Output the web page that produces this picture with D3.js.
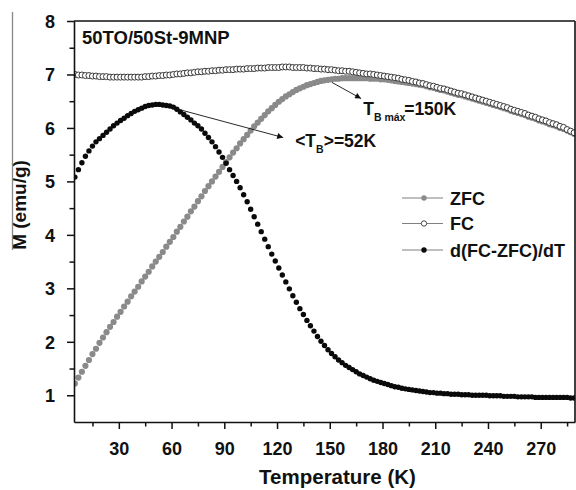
<!DOCTYPE html>
<html><head><meta charset="utf-8">
<script src="https://cdn.jsdelivr.net/npm/d3@7"></script>
<style>
body{margin:0;background:#fff}
svg{display:block}
text{font-family:"Liberation Sans",Arial,Helvetica,sans-serif;font-weight:bold;fill:#111}
</style>
</head><body>
<svg id="chart" width="576" height="490"></svg>
<script>
// ---------- data ----------
const temperature = [
  5,7,9,11,13,15,17,19,21,23,
  25,27,29,31,33,35,37,39,41,43,
  45,47,49,51,53,55,57,59,61,63,
  65,67,69,71,73,75,77,79,81,83,
  85,87,89,91,93,95,97,99,101,103,
  105,107,109,111,113,115,117,119,121,123,
  125,127,129,131,133,135,137,139,141,143,
  145,147,149,151,153,155,157,159,161,163,
  165,167,169,171,173,175,177,179,181,183,
  185,187,189,191,193,195,197,199,201,203,
  205,207,209,211,213,215,217,219,221,223,
  225,227,229,231,233,235,237,239,241,243,
  245,247,249,251,253,255,257,259,261,263,
  265,267,269,271,273,275,277,279,281,283,
  285,287,289
];
const zfc = [
  1.22,1.33,1.44,1.55,1.66,1.77,1.87,1.98,2.08,2.18,
  2.28,2.37,2.47,2.56,2.66,2.75,2.85,2.94,3.03,3.13,
  3.22,3.31,3.41,3.50,3.59,3.68,3.78,3.87,3.96,4.06,
  4.15,4.25,4.34,4.44,4.53,4.63,4.72,4.82,4.91,5.00,
  5.09,5.18,5.27,5.36,5.45,5.54,5.62,5.71,5.79,5.87,
  5.95,6.03,6.10,6.17,6.24,6.31,6.37,6.43,6.49,6.54,
  6.59,6.63,6.67,6.71,6.74,6.77,6.80,6.82,6.84,6.86,
  6.88,6.89,6.90,6.91,6.92,6.92,6.93,6.93,6.93,6.93,
  6.93,6.93,6.93,6.93,6.92,6.92,6.92,6.91,6.91,6.90,
  6.89,6.88,6.87,6.86,6.85,6.84,6.83,6.82,6.81,6.80,
  6.78,6.76,6.75,6.73,6.71,6.70,6.68,6.66,6.64,6.62,
  6.61,6.59,6.57,6.55,6.53,6.51,6.49,6.47,6.45,6.43,
  6.41,6.39,6.37,6.35,6.32,6.30,6.28,6.26,6.24,6.21,
  6.19,6.17,6.14,6.12,6.10,6.07,6.05,6.03,6.00,5.98,
  5.95,5.92,5.89
];
const fc = [
  7.00,6.99,6.99,6.98,6.98,6.97,6.97,6.96,6.96,6.96,
  6.95,6.95,6.95,6.95,6.95,6.95,6.95,6.95,6.95,6.95,
  6.96,6.96,6.97,6.97,6.98,6.98,6.99,6.99,7.00,7.01,
  7.01,7.02,7.03,7.03,7.04,7.05,7.05,7.06,7.06,7.07,
  7.07,7.08,7.08,7.09,7.09,7.09,7.10,7.10,7.10,7.11,
  7.11,7.11,7.12,7.12,7.12,7.13,7.13,7.13,7.13,7.14,
  7.14,7.14,7.13,7.13,7.13,7.13,7.12,7.12,7.11,7.11,
  7.10,7.10,7.09,7.09,7.08,7.07,7.07,7.06,7.06,7.05,
  7.04,7.03,7.02,7.01,7.01,7.00,6.99,6.98,6.97,6.96,
  6.95,6.94,6.93,6.91,6.90,6.89,6.87,6.86,6.84,6.83,
  6.81,6.79,6.78,6.76,6.74,6.73,6.71,6.69,6.67,6.65,
  6.64,6.62,6.60,6.58,6.56,6.54,6.52,6.50,6.48,6.46,
  6.44,6.42,6.40,6.38,6.35,6.33,6.31,6.29,6.27,6.24,
  6.22,6.20,6.17,6.15,6.13,6.10,6.08,6.06,6.03,6.01,
  5.97,5.94,5.91
];
const dFcZfc = [
  5.08,5.22,5.35,5.47,5.57,5.66,5.74,5.80,5.86,5.92,
  5.98,6.04,6.09,6.14,6.18,6.23,6.27,6.31,6.34,6.37,
  6.40,6.42,6.43,6.44,6.44,6.43,6.42,6.41,6.39,6.35,
  6.30,6.25,6.20,6.15,6.09,6.04,5.98,5.90,5.82,5.74,
  5.65,5.55,5.45,5.34,5.22,5.11,5.00,4.88,4.75,4.62,
  4.48,4.34,4.20,4.06,3.92,3.78,3.64,3.51,3.38,3.25,
  3.12,2.99,2.86,2.74,2.62,2.51,2.40,2.30,2.20,2.10,
  2.01,1.93,1.85,1.78,1.72,1.66,1.61,1.56,1.52,1.48,
  1.44,1.40,1.37,1.34,1.31,1.28,1.26,1.24,1.22,1.20,
  1.18,1.16,1.15,1.13,1.12,1.11,1.10,1.09,1.08,1.07,
  1.06,1.05,1.05,1.04,1.04,1.03,1.03,1.02,1.02,1.02,
  1.01,1.01,1.01,1.00,1.00,1.00,1.00,1.00,0.99,0.99,
  0.99,0.99,0.98,0.98,0.98,0.98,0.97,0.97,0.97,0.97,
  0.97,0.96,0.96,0.96,0.96,0.96,0.96,0.96,0.96,0.96,
  0.96,0.95,0.95
];
const xTickValues = [30,60,90,120,150,180,210,240,270];
const xMinorTicks = [15,45,75,105,135,165,195,225,255,285];
const yTickValues = [1,2,3,4,5,6,7,8];
const yMinorTicks = [1.5,2.5,3.5,4.5,5.5,6.5,7.5];
const seriesNames = ["ZFC","FC","d(FC-ZFC)/dT"];
const chartTitle = "50TO/50St-9MNP";
const xTitle = "Temperature (K)";
const yTitle = "M (emu/g)";
// annotation anchors in data units [T, M]
const annoMean = {from:[63.7,6.35], to:[123.5,5.82], text:[130.3,5.65]};
const annoMax  = {from:[151.3,6.85], to:[167.8,6.55], text:[169.0,6.25]};

// ---------- layout ----------
const svg = d3.select("#chart");
const L = 74, R = 575, T = 21, B = 422;
const x = d3.scaleLinear().domain([4.5, 289.5]).range([L, R]);
const y = d3.scaleLinear().domain([0.5, 8]).range([B, T]);

svg.append("defs").append("clipPath").attr("id","plotclip")
  .append("rect").attr("x",L).attr("y",T).attr("width",R-L).attr("height",B-T);
svg.select("defs").append("marker").attr("id","arrow")
  .attr("viewBox","0 0 10 10").attr("refX",10).attr("refY",5)
  .attr("markerUnits","userSpaceOnUse").attr("markerWidth",9).attr("markerHeight",6)
  .attr("orient","auto")
  .append("path").attr("d","M0,0 L10,5 L0,10 z").attr("fill","#111");

// scanning artefact line at far left
svg.append("line").attr("x1",12.5).attr("x2",12.5).attr("y1",12).attr("y2",250)
  .attr("stroke","#888").attr("stroke-width",1.3);

// ---------- data marks ----------
const plot = svg.append("g").attr("clip-path","url(#plotclip)");
const rows = temperature.map((t,i)=>({t, zfc:zfc[i], fc:fc[i], d:dFcZfc[i]}));

plot.append("g").selectAll("circle").data(rows).join("circle")
  .attr("cx",d=>x(d.t)).attr("cy",d=>y(d.zfc)).attr("r",3.1)
  .attr("fill","#8a8a8a");
plot.append("g").selectAll("circle").data(rows).join("circle")
  .attr("cx",d=>x(d.t)).attr("cy",d=>y(d.fc)).attr("r",3.0)
  .attr("fill","#fff").attr("stroke","#383838").attr("stroke-width",1.0);
plot.append("g").selectAll("circle").data(rows).join("circle")
  .attr("cx",d=>x(d.t)).attr("cy",d=>y(d.d)).attr("r",2.7)
  .attr("fill","#0a0a0a");

// ---------- axes ----------
const xAxis = svg.append("g").attr("transform",`translate(0,${B})`)
  .call(d3.axisBottom(x).tickValues(xTickValues).tickSize(7).tickSizeOuter(0).tickPadding(6));
svg.append("g").attr("transform",`translate(0,${B})`)
  .call(d3.axisBottom(x).tickValues(xMinorTicks).tickSize(4.5).tickSizeOuter(0).tickFormat(""))
  .call(g=>g.select(".domain").remove());
const yAxis = svg.append("g").attr("transform",`translate(${L},0)`)
  .call(d3.axisLeft(y).tickValues(yTickValues).tickSize(7).tickSizeOuter(0).tickPadding(12));
svg.append("g").attr("transform",`translate(${L},0)`)
  .call(d3.axisLeft(y).tickValues(yMinorTicks).tickSize(4.5).tickSizeOuter(0).tickFormat(""))
  .call(g=>g.select(".domain").remove());

svg.selectAll(".domain").attr("stroke","#111").attr("stroke-width",1.6);
svg.selectAll(".tick line").attr("stroke","#111").attr("stroke-width",1.5);
xAxis.selectAll(".tick text").attr("font-size",18).attr("dy",null).attr("y",33)
  .style("font-family","'Liberation Sans',Arial,sans-serif").style("font-weight","bold").attr("fill","#111");
yAxis.selectAll(".tick text").attr("font-size",18).attr("dy","0.36em")
  .style("font-family","'Liberation Sans',Arial,sans-serif").style("font-weight","bold").attr("fill","#111");

// frame top & right
svg.append("line").attr("x1",L).attr("x2",R).attr("y1",T).attr("y2",T)
  .attr("stroke","#111").attr("stroke-width",1.6);
svg.append("line").attr("x1",R).attr("x2",R).attr("y1",T).attr("y2",B)
  .attr("stroke","#111").attr("stroke-width",1.6);

// ---------- titles ----------
svg.append("text").attr("x",(L+R)/2+13).attr("y",484).attr("text-anchor","middle")
  .attr("font-size",20.5).text(xTitle);
svg.append("text").attr("transform","translate(26,205) rotate(-90)").attr("text-anchor","middle")
  .attr("font-size",19).text(yTitle);
svg.append("text").attr("x",82).attr("y",44).attr("font-size",18.5).text(chartTitle);

// ---------- legend ----------
const leg = svg.append("g");
const legY = [198,223.5,250];
seriesNames.forEach((name,i)=>{
  const g = leg.append("g").attr("transform",`translate(0,${legY[i]})`);
  g.append("line").attr("x1",402).attr("x2",443).attr("y1",0).attr("y2",0)
    .attr("stroke","#808080").attr("stroke-width",1.1);
  const c = g.append("circle").attr("cx",424).attr("cy",0).attr("r",2.7);
  if(i===0) c.attr("fill","#8a8a8a");
  else if(i===1) c.attr("fill","#fff").attr("stroke","#383838").attr("stroke-width",0.9);
  else c.attr("fill","#0a0a0a");
  g.append("text").attr("x",450).attr("y",6.5).attr("font-size",18).text(name);
});

// ---------- annotations ----------
function arrow(a){
  svg.append("line")
    .attr("x1",x(a.from[0])).attr("y1",y(a.from[1]))
    .attr("x2",x(a.to[0])).attr("y2",y(a.to[1]))
    .attr("stroke","#111").attr("stroke-width",0.9).attr("marker-end","url(#arrow)");
}
arrow(annoMean); arrow(annoMax);

const t1 = svg.append("text").attr("x",x(annoMean.text[0])).attr("y",y(annoMean.text[1])).attr("font-size",17.5);
t1.append("tspan").text("<T");
t1.append("tspan").attr("font-size",10.5).attr("dy",6).text("B");
t1.append("tspan").attr("dy",-6).text(">=52K");

const tx = x(annoMax.text[0]), ty = y(annoMax.text[1]);
const t2 = svg.append("text").attr("x",tx).attr("y",ty).attr("font-size",17.5);
t2.append("tspan").text("T");
t2.append("tspan").attr("font-size",10.5).attr("dy",6).text("B máx");
t2.append("tspan").attr("x",tx+41).attr("dy",-6).text("=150K");
</script>
</body></html>
